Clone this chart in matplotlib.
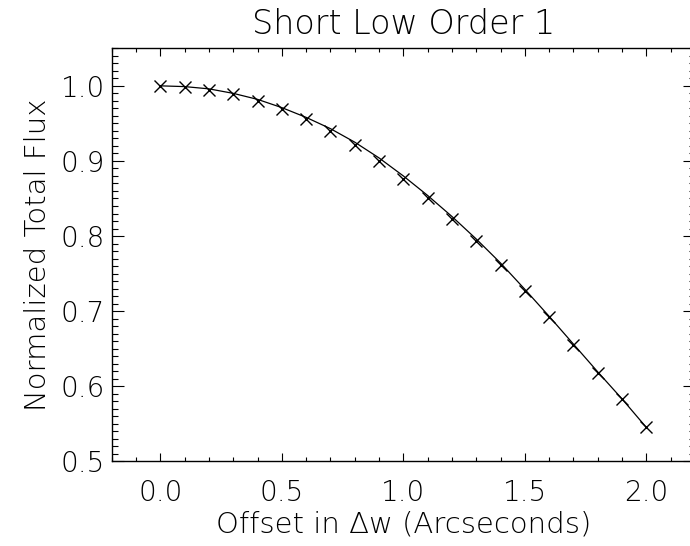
import numpy as np
import matplotlib
matplotlib.use('Agg')
import matplotlib.pyplot as plt
from matplotlib.ticker import MultipleLocator, FormatStrFormatter

# offsets (arcsec) and measured normalized flux
offset = [0.0, 0.1, 0.2, 0.3, 0.4, 0.5, 0.6, 0.7, 0.8, 0.9, 1.0,
          1.1, 1.2, 1.3, 1.4, 1.5, 1.6, 1.7, 1.8, 1.9, 2.0]
flux = [1.000, 0.999, 0.995, 0.989, 0.980, 0.969, 0.956, 0.940, 0.921, 0.900, 0.876,
        0.850, 0.823, 0.793, 0.761, 0.727, 0.692, 0.655, 0.618, 0.583, 0.546]
# smooth model curve drawn through the points
model = [1.000, 0.999, 0.996, 0.990, 0.982, 0.971, 0.958, 0.943, 0.925, 0.904, 0.880,
         0.854, 0.826, 0.796, 0.764, 0.729, 0.693, 0.656, 0.619, 0.583, 0.545]

plt.rcParams['font.family'] = ['DejaVu Sans']
plt.rcParams['font.weight'] = 'light'
plt.rcParams['axes.labelweight'] = 'light'
plt.rcParams['axes.titleweight'] = 'light'
plt.rcParams['font.size'] = 20

fig = plt.figure(figsize=(6.9, 5.46), dpi=100)
ax = fig.add_axes([111.7 / 690, (546 - 461.3) / 546, (695 - 111.7) / 690, (461.3 - 48.3) / 546])

ax.plot(offset, model, color='black', linewidth=0.9)
ax.plot(offset, flux, linestyle='none', marker='x', color='black', markersize=8, markeredgewidth=1.0)

ax.set_xlim(-0.2, 2.2)
ax.set_ylim(0.5, 1.05)
ax.xaxis.set_major_locator(MultipleLocator(0.5))
ax.xaxis.set_minor_locator(MultipleLocator(0.1))
ax.yaxis.set_major_locator(MultipleLocator(0.1))
ax.yaxis.set_minor_locator(MultipleLocator(0.01))
ax.xaxis.set_major_formatter(FormatStrFormatter('%.1f'))
ax.yaxis.set_major_formatter(FormatStrFormatter('%.1f'))

ax.tick_params(axis='both', which='both', direction='in', top=True, right=True, width=0.8, color='black')
ax.tick_params(axis='x', which='major', length=5.8, pad=13)
ax.tick_params(axis='x', which='minor', length=2.9)
ax.tick_params(axis='y', which='major', length=8.4, pad=5)
ax.tick_params(axis='y', which='minor', length=4.1)
for s in ax.spines.values():
    s.set_linewidth(1.0)

ax.set_xlabel('Offset in \u0394w (Arcseconds)', fontsize=21, labelpad=2)
ax.set_ylabel('Normalized Total Flux', fontsize=21, labelpad=6)
ax.set_title('Short Low Order 1', fontsize=24, pad=10)

fig.savefig('out.png', dpi=100)
